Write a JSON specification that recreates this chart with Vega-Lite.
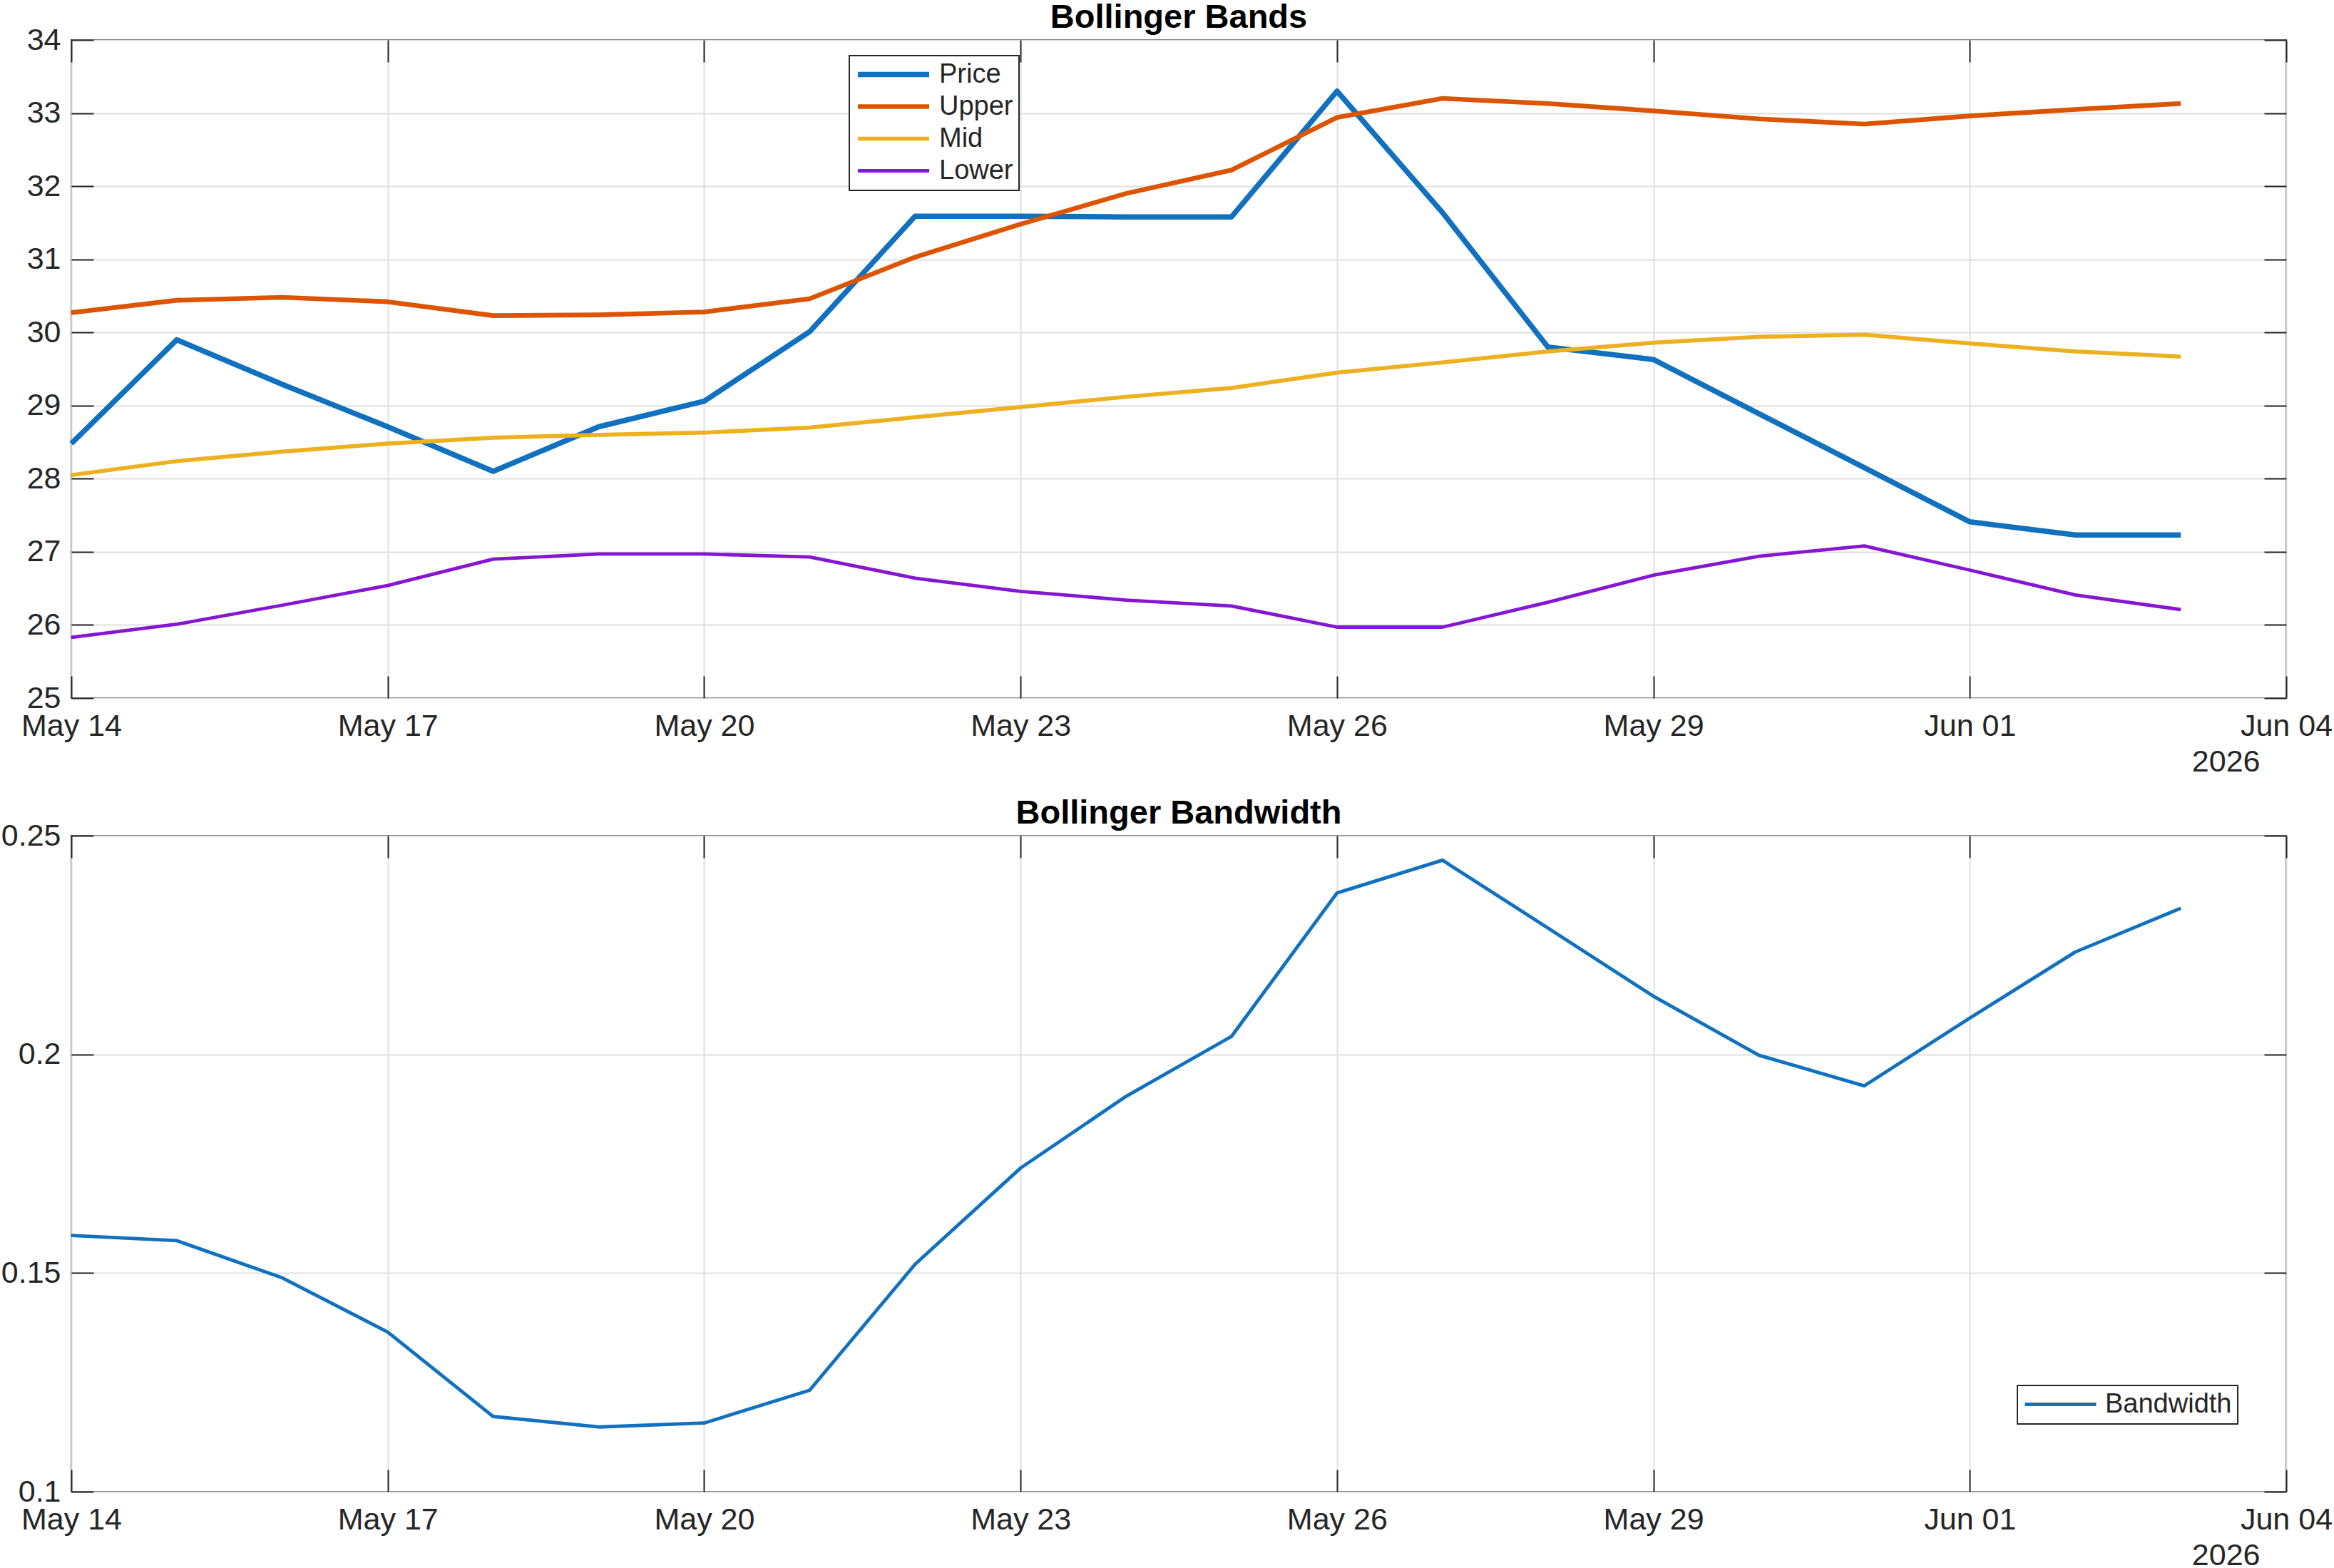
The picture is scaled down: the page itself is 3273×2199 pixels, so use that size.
{
  "$schema": "https://vega.github.io/schema/vega-lite/v6.json",
  "padding": {"top": 0, "left": 0, "right": 0, "bottom": 0},
  "background": "white",
  "spacing": 25,
  "resolve": {
    "scale": {"color": "independent", "strokeWidth": "independent"},
    "legend": {"color": "independent", "strokeWidth": "independent"}
  },
  "config": {
    "font": "Liberation Sans",
    "view": {"stroke": "#262626", "strokeWidth": 2},
    "axis": {
      "domain": false,
      "labelFont": "Liberation Sans",
      "labelFontSize": 43,
      "labelColor": "#262626",
      "tickColor": "#262626",
      "tickWidth": 2,
      "gridColor": "#dfdfdf",
      "gridWidth": 2,
      "labelOverlap": false,
      "labelFlush": false,
      "labelBound": false
    },
    "legend": {
      "orient": "none",
      "symbolType": "stroke",
      "symbolSize": 10000,
      "clipHeight": 37,
      "rowPadding": 6,
      "padding": 8,
      "labelOffset": 10,
      "labelLimit": 400,
      "labelFont": "Liberation Sans",
      "labelFontSize": 38,
      "labelColor": "#262626",
      "strokeColor": "#262626",
      "fillColor": "white",
      "cornerRadius": 0,
      "strokeWidth": 2
    },
    "title": {
      "font": "Liberation Sans",
      "fontSize": 47,
      "fontWeight": "bold",
      "color": "#000000",
      "anchor": "middle",
      "baseline": "alphabetic",
      "frame": "group",
      "offset": -14
    },
    "line": {"strokeJoin": "round", "strokeCap": "butt"}
  },
  "datasets": {
    "bands": [
      {"date": "2026-05-14", "series": "Price", "value": 28.48},
      {"date": "2026-05-15", "series": "Price", "value": 29.90},
      {"date": "2026-05-16", "series": "Price", "value": 29.29},
      {"date": "2026-05-17", "series": "Price", "value": 28.71},
      {"date": "2026-05-18", "series": "Price", "value": 28.10},
      {"date": "2026-05-19", "series": "Price", "value": 28.71},
      {"date": "2026-05-20", "series": "Price", "value": 29.06},
      {"date": "2026-05-21", "series": "Price", "value": 30.01},
      {"date": "2026-05-22", "series": "Price", "value": 31.59},
      {"date": "2026-05-23", "series": "Price", "value": 31.59},
      {"date": "2026-05-24", "series": "Price", "value": 31.58},
      {"date": "2026-05-25", "series": "Price", "value": 31.58},
      {"date": "2026-05-26", "series": "Price", "value": 33.30},
      {"date": "2026-05-27", "series": "Price", "value": 31.64},
      {"date": "2026-05-28", "series": "Price", "value": 29.80},
      {"date": "2026-05-29", "series": "Price", "value": 29.63},
      {"date": "2026-05-30", "series": "Price", "value": 28.89},
      {"date": "2026-05-31", "series": "Price", "value": 28.15},
      {"date": "2026-06-01", "series": "Price", "value": 27.41},
      {"date": "2026-06-02", "series": "Price", "value": 27.23},
      {"date": "2026-06-03", "series": "Price", "value": 27.23},
      {"date": "2026-05-14", "series": "Upper", "value": 30.27},
      {"date": "2026-05-15", "series": "Upper", "value": 30.44},
      {"date": "2026-05-16", "series": "Upper", "value": 30.48},
      {"date": "2026-05-17", "series": "Upper", "value": 30.42},
      {"date": "2026-05-18", "series": "Upper", "value": 30.23},
      {"date": "2026-05-19", "series": "Upper", "value": 30.24},
      {"date": "2026-05-20", "series": "Upper", "value": 30.28},
      {"date": "2026-05-21", "series": "Upper", "value": 30.46},
      {"date": "2026-05-22", "series": "Upper", "value": 31.03},
      {"date": "2026-05-23", "series": "Upper", "value": 31.48},
      {"date": "2026-05-24", "series": "Upper", "value": 31.90},
      {"date": "2026-05-25", "series": "Upper", "value": 32.22},
      {"date": "2026-05-26", "series": "Upper", "value": 32.94},
      {"date": "2026-05-27", "series": "Upper", "value": 33.20},
      {"date": "2026-05-28", "series": "Upper", "value": 33.13},
      {"date": "2026-05-29", "series": "Upper", "value": 33.03},
      {"date": "2026-05-30", "series": "Upper", "value": 32.92},
      {"date": "2026-05-31", "series": "Upper", "value": 32.85},
      {"date": "2026-06-01", "series": "Upper", "value": 32.96},
      {"date": "2026-06-02", "series": "Upper", "value": 33.05},
      {"date": "2026-06-03", "series": "Upper", "value": 33.13},
      {"date": "2026-05-14", "series": "Mid", "value": 28.05},
      {"date": "2026-05-15", "series": "Mid", "value": 28.24},
      {"date": "2026-05-16", "series": "Mid", "value": 28.37},
      {"date": "2026-05-17", "series": "Mid", "value": 28.48},
      {"date": "2026-05-18", "series": "Mid", "value": 28.56},
      {"date": "2026-05-19", "series": "Mid", "value": 28.60},
      {"date": "2026-05-20", "series": "Mid", "value": 28.63},
      {"date": "2026-05-21", "series": "Mid", "value": 28.70},
      {"date": "2026-05-22", "series": "Mid", "value": 28.84},
      {"date": "2026-05-23", "series": "Mid", "value": 28.98},
      {"date": "2026-05-24", "series": "Mid", "value": 29.12},
      {"date": "2026-05-25", "series": "Mid", "value": 29.24},
      {"date": "2026-05-26", "series": "Mid", "value": 29.45},
      {"date": "2026-05-27", "series": "Mid", "value": 29.59},
      {"date": "2026-05-28", "series": "Mid", "value": 29.74},
      {"date": "2026-05-29", "series": "Mid", "value": 29.86},
      {"date": "2026-05-30", "series": "Mid", "value": 29.94},
      {"date": "2026-05-31", "series": "Mid", "value": 29.97},
      {"date": "2026-06-01", "series": "Mid", "value": 29.85},
      {"date": "2026-06-02", "series": "Mid", "value": 29.74},
      {"date": "2026-06-03", "series": "Mid", "value": 29.67},
      {"date": "2026-05-14", "series": "Lower", "value": 25.83},
      {"date": "2026-05-15", "series": "Lower", "value": 26.01},
      {"date": "2026-05-16", "series": "Lower", "value": 26.27},
      {"date": "2026-05-17", "series": "Lower", "value": 26.54},
      {"date": "2026-05-18", "series": "Lower", "value": 26.90},
      {"date": "2026-05-19", "series": "Lower", "value": 26.97},
      {"date": "2026-05-20", "series": "Lower", "value": 26.97},
      {"date": "2026-05-21", "series": "Lower", "value": 26.93},
      {"date": "2026-05-22", "series": "Lower", "value": 26.64},
      {"date": "2026-05-23", "series": "Lower", "value": 26.46},
      {"date": "2026-05-24", "series": "Lower", "value": 26.34},
      {"date": "2026-05-25", "series": "Lower", "value": 26.26},
      {"date": "2026-05-26", "series": "Lower", "value": 25.97},
      {"date": "2026-05-27", "series": "Lower", "value": 25.97},
      {"date": "2026-05-28", "series": "Lower", "value": 26.31},
      {"date": "2026-05-29", "series": "Lower", "value": 26.68},
      {"date": "2026-05-30", "series": "Lower", "value": 26.94},
      {"date": "2026-05-31", "series": "Lower", "value": 27.08},
      {"date": "2026-06-01", "series": "Lower", "value": 26.75},
      {"date": "2026-06-02", "series": "Lower", "value": 26.41},
      {"date": "2026-06-03", "series": "Lower", "value": 26.21}
    ],
    "bandwidth": [
      {"date": "2026-05-14", "series": "Bandwidth", "value": 0.1586},
      {"date": "2026-05-15", "series": "Bandwidth", "value": 0.1574},
      {"date": "2026-05-16", "series": "Bandwidth", "value": 0.1489},
      {"date": "2026-05-17", "series": "Bandwidth", "value": 0.1365},
      {"date": "2026-05-18", "series": "Bandwidth", "value": 0.1172},
      {"date": "2026-05-19", "series": "Bandwidth", "value": 0.1148},
      {"date": "2026-05-20", "series": "Bandwidth", "value": 0.1157},
      {"date": "2026-05-21", "series": "Bandwidth", "value": 0.1232},
      {"date": "2026-05-22", "series": "Bandwidth", "value": 0.1520},
      {"date": "2026-05-23", "series": "Bandwidth", "value": 0.1740},
      {"date": "2026-05-24", "series": "Bandwidth", "value": 0.1904},
      {"date": "2026-05-25", "series": "Bandwidth", "value": 0.2041},
      {"date": "2026-05-26", "series": "Bandwidth", "value": 0.2369},
      {"date": "2026-05-27", "series": "Bandwidth", "value": 0.2444},
      {"date": "2026-05-28", "series": "Bandwidth", "value": 0.2289},
      {"date": "2026-05-29", "series": "Bandwidth", "value": 0.2133},
      {"date": "2026-05-30", "series": "Bandwidth", "value": 0.1998},
      {"date": "2026-05-31", "series": "Bandwidth", "value": 0.1928},
      {"date": "2026-06-01", "series": "Bandwidth", "value": 0.2083},
      {"date": "2026-06-02", "series": "Bandwidth", "value": 0.2234},
      {"date": "2026-06-03", "series": "Bandwidth", "value": 0.2334}
    ]
  },
  "vconcat": [
    {
      "title": {"text": "Bollinger Bands"},
      "width": 3106,
      "height": 923,
      "data": {"name": "bands"},
      "resolve": {"axis": {"x": "independent", "y": "independent"}},
      "layer": [
        {
          "mark": {"type": "line"},
          "encoding": {
            "x": {
              "field": "date", "type": "temporal",
              "scale": {"type": "utc", "domain": [{"year": 2026, "month": "May", "date": 14, "utc": true}, {"year": 2026, "month": "Jun", "date": 4, "utc": true}]},
              "axis": {
                "orient": "bottom",
                "values": [
                  {"year": 2026, "month": "May", "date": 14, "utc": true},
                  {"year": 2026, "month": "May", "date": 17, "utc": true},
                  {"year": 2026, "month": "May", "date": 20, "utc": true},
                  {"year": 2026, "month": "May", "date": 23, "utc": true},
                  {"year": 2026, "month": "May", "date": 26, "utc": true},
                  {"year": 2026, "month": "May", "date": 29, "utc": true},
                  {"year": 2026, "month": "Jun", "date": 1, "utc": true},
                  {"year": 2026, "month": "Jun", "date": 4, "utc": true}
                ],
                "format": "%b %d",
                "tickSize": -31,
                "labelPadding": 49,
                "grid": true,
                "title": "2026",
                "titleX": 3069,
                "titleY": 102,
                "titleAlign": "right",
                "titleBaseline": "alphabetic",
                "titleFont": "Liberation Sans",
                "titleFontSize": 43,
                "titleFontWeight": "normal",
                "titleColor": "#262626"
              }
            },
            "y": {
              "field": "value", "type": "quantitative",
              "scale": {"domain": [25, 34], "nice": false, "zero": false},
              "axis": {
                "orient": "left",
                "values": [25, 26, 27, 28, 29, 30, 31, 32, 33, 34],
                "tickSize": -31,
                "labelPadding": 46,
                "grid": true,
                "title": null
              }
            },
            "color": {
              "field": "series", "type": "nominal",
              "scale": {"domain": ["Price", "Upper", "Mid", "Lower"], "range": ["#1171BE", "#DD5400", "#EDB120", "#8516D1"]},
              "legend": {"title": null, "legendX": 1091, "legendY": 22}
            },
            "strokeWidth": {
              "field": "series", "type": "nominal",
              "scale": {"domain": ["Price", "Upper", "Mid", "Lower"], "range": [7.5, 4.8, 4.8, 4.8]},
              "legend": {"title": null, "legendX": 1091, "legendY": 22}
            }
          }
        },
        {
          "transform": [{"filter": "datum.series === 'Mid'"}],
          "mark": {"type": "line", "strokeOpacity": 0},
          "encoding": {
            "x": {
              "field": "date", "type": "temporal",
              "axis": {
                "orient": "top",
                "values": [
                  {"year": 2026, "month": "May", "date": 14, "utc": true},
                  {"year": 2026, "month": "May", "date": 17, "utc": true},
                  {"year": 2026, "month": "May", "date": 20, "utc": true},
                  {"year": 2026, "month": "May", "date": 23, "utc": true},
                  {"year": 2026, "month": "May", "date": 26, "utc": true},
                  {"year": 2026, "month": "May", "date": 29, "utc": true},
                  {"year": 2026, "month": "Jun", "date": 1, "utc": true},
                  {"year": 2026, "month": "Jun", "date": 4, "utc": true}
                ],
                "labels": false, "grid": false, "tickSize": -31, "title": null,
                "minExtent": 0, "maxExtent": 0
              }
            },
            "y": {
              "field": "value", "type": "quantitative",
              "axis": {
                "orient": "right",
                "values": [25, 26, 27, 28, 29, 30, 31, 32, 33, 34],
                "labels": false, "grid": false, "tickSize": -31, "title": null,
                "minExtent": 0, "maxExtent": 0
              }
            }
          }
        }
      ]
    },
    {
      "title": {"text": "Bollinger Bandwidth"},
      "width": 3106,
      "height": 920,
      "data": {"name": "bandwidth"},
      "resolve": {"axis": {"x": "independent", "y": "independent"}},
      "layer": [
        {
          "mark": {"type": "line", "strokeWidth": 4.8},
          "encoding": {
            "x": {
              "field": "date", "type": "temporal",
              "scale": {"type": "utc", "domain": [{"year": 2026, "month": "May", "date": 14, "utc": true}, {"year": 2026, "month": "Jun", "date": 4, "utc": true}]},
              "axis": {
                "orient": "bottom",
                "values": [
                  {"year": 2026, "month": "May", "date": 14, "utc": true},
                  {"year": 2026, "month": "May", "date": 17, "utc": true},
                  {"year": 2026, "month": "May", "date": 20, "utc": true},
                  {"year": 2026, "month": "May", "date": 23, "utc": true},
                  {"year": 2026, "month": "May", "date": 26, "utc": true},
                  {"year": 2026, "month": "May", "date": 29, "utc": true},
                  {"year": 2026, "month": "Jun", "date": 1, "utc": true},
                  {"year": 2026, "month": "Jun", "date": 4, "utc": true}
                ],
                "format": "%b %d",
                "tickSize": -31,
                "labelPadding": 49,
                "grid": true,
                "title": "2026",
                "titleX": 3069,
                "titleY": 102,
                "titleAlign": "right",
                "titleBaseline": "alphabetic",
                "titleFont": "Liberation Sans",
                "titleFontSize": 43,
                "titleFontWeight": "normal",
                "titleColor": "#262626"
              }
            },
            "y": {
              "field": "value", "type": "quantitative",
              "scale": {"domain": [0.1, 0.25], "nice": false, "zero": false},
              "axis": {
                "orient": "left",
                "values": [0.1, 0.15, 0.2, 0.25],
                "format": "~g",
                "tickSize": -31,
                "labelPadding": 46,
                "grid": true,
                "title": null
              }
            },
            "color": {
              "field": "series", "type": "nominal",
              "scale": {"domain": ["Bandwidth"], "range": ["#1171BE"]},
              "legend": {"title": null, "legendX": 2729, "legendY": 771, "symbolStrokeWidth": 5}
            }
          }
        },
        {
          "mark": {"type": "line", "strokeOpacity": 0},
          "encoding": {
            "x": {
              "field": "date", "type": "temporal",
              "axis": {
                "orient": "top",
                "values": [
                  {"year": 2026, "month": "May", "date": 14, "utc": true},
                  {"year": 2026, "month": "May", "date": 17, "utc": true},
                  {"year": 2026, "month": "May", "date": 20, "utc": true},
                  {"year": 2026, "month": "May", "date": 23, "utc": true},
                  {"year": 2026, "month": "May", "date": 26, "utc": true},
                  {"year": 2026, "month": "May", "date": 29, "utc": true},
                  {"year": 2026, "month": "Jun", "date": 1, "utc": true},
                  {"year": 2026, "month": "Jun", "date": 4, "utc": true}
                ],
                "labels": false, "grid": false, "tickSize": -31, "title": null,
                "minExtent": 0, "maxExtent": 0
              }
            },
            "y": {
              "field": "value", "type": "quantitative",
              "axis": {
                "orient": "right",
                "values": [0.1, 0.15, 0.2, 0.25],
                "labels": false, "grid": false, "tickSize": -31, "title": null,
                "minExtent": 0, "maxExtent": 0
              }
            }
          }
        }
      ]
    }
  ]
}
